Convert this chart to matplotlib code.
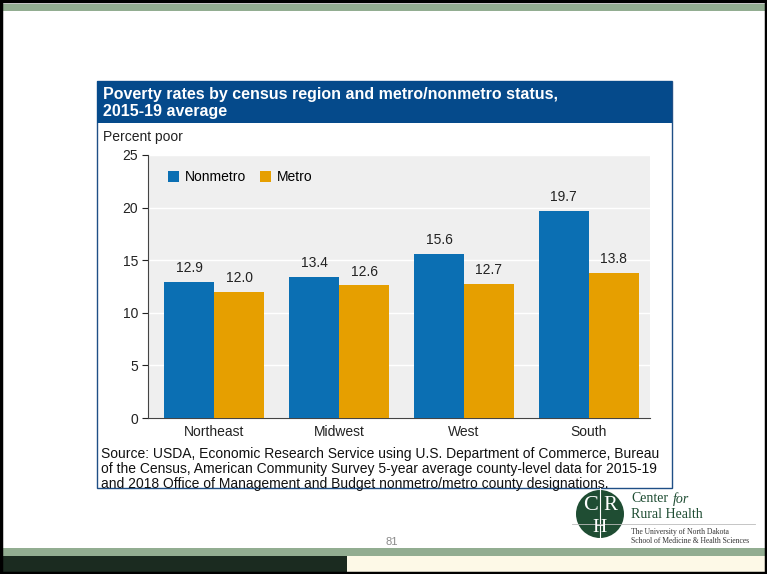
import matplotlib
matplotlib.use("Agg")
import matplotlib.pyplot as plt
import matplotlib.patches as mpatches
import numpy as np

regions = ["Northeast", "Midwest", "West", "South"]
nonmetro = [12.9, 13.4, 15.6, 19.7]
metro = [12.0, 12.6, 12.7, 13.8]
y_ticks = [0, 5, 10, 15, 20, 25]

title = "Poverty rates by census region and metro/nonmetro status,\n2015-19 average"
source = ("Source: USDA, Economic Research Service using U.S. Department of Commerce, Bureau\n"
          "of the Census, American Community Survey 5-year average county-level data for 2015-19\n"
          "and 2018 Office of Management and Budget nonmetro/metro county designations.")

W, H = 767, 574
BLUE = "#0b6fb3"
ORANGE = "#e69f00"
HEADER = "#054a8b"
FS = 10

plt.rcParams['font.family'] = ['Liberation Sans', 'DejaVu Sans']

fig = plt.figure(figsize=(W / 100, H / 100), dpi=100)

# slide background drawn in pixel coordinates
bg = fig.add_axes([0, 0, 1, 1])
bg.set_xlim(0, W)
bg.set_ylim(H, 0)
bg.axis('off')

bg.add_patch(mpatches.Rectangle((0, 4), W, 7, color="#92ad91", lw=0))
bg.add_patch(mpatches.Rectangle((0, 548), W, 8, color="#92ad91", lw=0))
bg.add_patch(mpatches.Rectangle((0, 556), 347, 18, color="#1b2b20", lw=0))
bg.add_patch(mpatches.Rectangle((347, 556), W - 347, 16, color="#fdf9e7", lw=0))
bg.add_patch(mpatches.Rectangle((1, 1), W - 2, H - 2, fill=False, ec="black", lw=2.5))

# chart panel
bg.add_patch(mpatches.Rectangle((97, 81), 575, 407, facecolor="white", ec="#1f4f86", lw=1))
bg.add_patch(mpatches.Rectangle((97, 81), 575, 42, color=HEADER, lw=0))
bg.text(103, 103, title, color="white", fontsize=11.5, fontweight="bold",
        va="center", ha="left", linespacing=1.2)
bg.text(103, 137, "Percent poor", fontsize=FS, va="center", ha="left", color="#222222")
bg.text(101, 469, source, fontsize=10, va="center", ha="left", color="#111111",
        linespacing=1.12)

# page number
bg.text(392, 542, "81", fontsize=8, color="#8a8a8a", ha="center", va="center")

# logo
bg.add_patch(mpatches.Circle((600, 514), 24, color="#1f4d33", lw=0))
bg.plot([600, 600], [488, 545], color="white", lw=0.8)
bg.text(591, 505, "C", fontsize=16, color="white", family="Liberation Serif",
        ha="center", va="center")
bg.text(610, 505, "R", fontsize=15, color="white", family="Liberation Serif",
        ha="center", va="center")
bg.text(600, 528, "H", fontsize=14, color="white", family="Liberation Serif",
        ha="center", va="center")
bg.plot([572, 755], [524, 524], color="#bbbbbb", lw=0.6)
bg.text(631, 499, "Center", fontsize=10, color="#1f4d33",
        family="Liberation Serif", va="center")
bg.text(673, 499, "for", fontsize=10, color="#1f4d33", style="italic",
        family="Liberation Serif", va="center")
bg.text(631, 515, "Rural Health", fontsize=10, color="#1f4d33",
        family="Liberation Serif", va="center")
bg.text(631, 532, "The University of North Dakota", fontsize=5.5, color="#333333",
        family="Liberation Serif", va="center")
bg.text(631, 541, "School of Medicine & Health Sciences", fontsize=5.5, color="#333333",
        family="Liberation Serif", va="center")

# bar chart
left, right, top, bottom = 148, 650, 155, 418
ax = fig.add_axes([left / W, (H - bottom) / H, (right - left) / W, (bottom - top) / H])
ax.set_facecolor("#efefef")

x = np.arange(len(regions))
w = 0.4
b1 = ax.bar(x - w / 2, nonmetro, w, color=BLUE, label="Nonmetro", zorder=3)
b2 = ax.bar(x + w / 2, metro, w, color=ORANGE, label="Metro", zorder=3)

for bars, vals in [(b1, nonmetro), (b2, metro)]:
    for bar, v in zip(bars, vals):
        ax.annotate(f"{v:.1f}", (bar.get_x() + bar.get_width() / 2, v),
                    xytext=(0, 5), textcoords="offset points",
                    ha="center", va="bottom", fontsize=FS, color="#222222")

ax.set_xlim(-0.53, 3.49)
ax.set_ylim(0, 25)
ax.set_yticks(y_ticks)
ax.set_xticks(x)
ax.set_xticklabels(regions)
ax.tick_params(axis='x', length=0, labelsize=FS, pad=5, colors="#222222")
ax.tick_params(axis='y', length=4, labelsize=FS, colors="#222222", pad=3)
ax.grid(axis='y', color="white", lw=1, zorder=0)
ax.set_axisbelow(True)
for s in ["top", "right"]:
    ax.spines[s].set_visible(False)
ax.spines["left"].set_color("#444444")
ax.spines["bottom"].set_color("#444444")

ax.legend(loc="upper left", bbox_to_anchor=(0.015, 0.99), ncol=2, frameon=False,
          fontsize=FS, handlelength=0.8, handleheight=0.8, handletextpad=0.4,
          columnspacing=1.0)

fig.savefig("out.png", dpi=100)
